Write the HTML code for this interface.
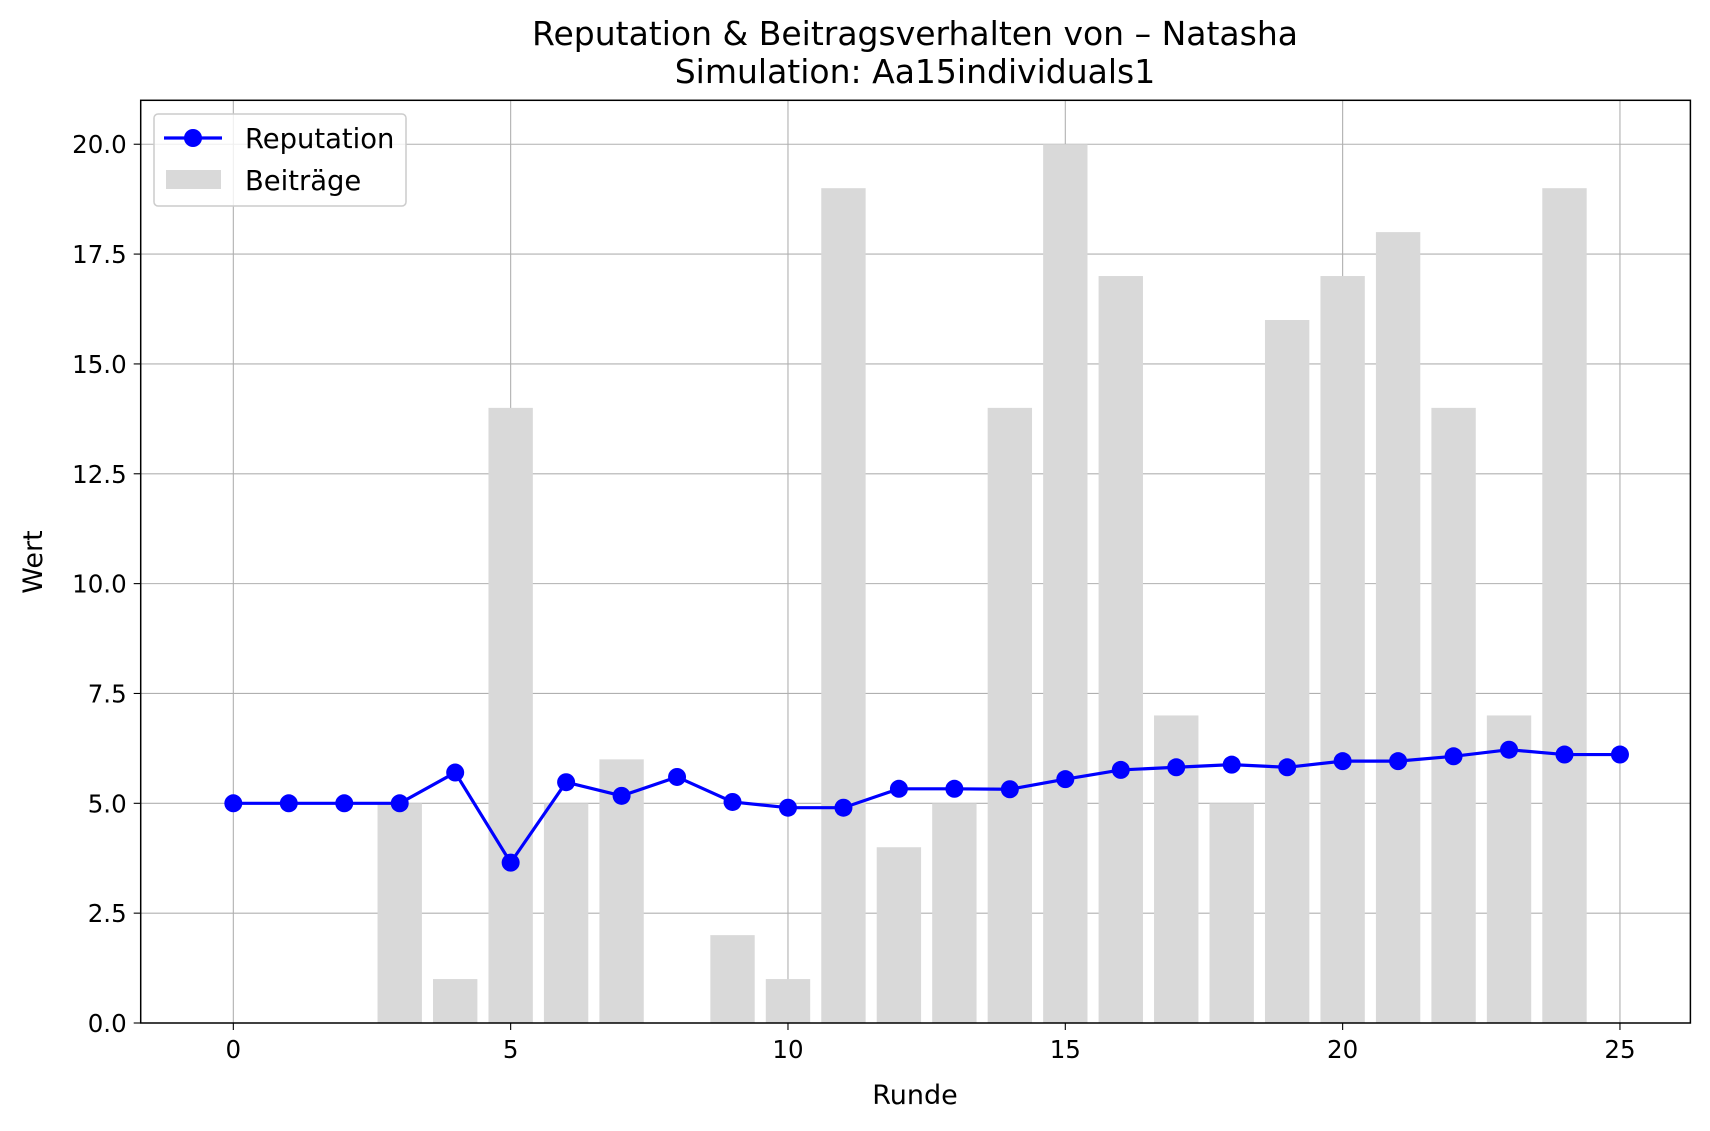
<!DOCTYPE html>
<html><head><meta charset="utf-8"><style>
html,body{margin:0;padding:0;background:#fff;}
svg{display:block;font-family:"DejaVu Sans","Liberation Sans",sans-serif;}
</style></head><body>
<svg id="chart" width="1710" height="1131" viewBox="0 0 1710 1131" xmlns="http://www.w3.org/2000/svg">
<rect width="1710" height="1131" fill="#fff"/>
<g id="grid"></g>
<g id="bars"></g>
<g id="line"></g>
<rect x="140.7" y="100.3" width="1549.7" height="922.7" fill="none" stroke="#000" stroke-width="1.5"/>
<g id="ticks" font-size="24.5" fill="#000"></g>
<text x="915" y="45" font-size="33" text-anchor="middle">Reputation &amp; Beitragsverhalten von – Natasha</text>
<text x="915" y="83" font-size="33" text-anchor="middle">Simulation: Aa15individuals1</text>
<text x="915" y="1104" font-size="27" text-anchor="middle">Runde</text>
<text x="0" y="0" font-size="27" text-anchor="middle" transform="translate(42,562) rotate(-90)">Wert</text>
<g>
<rect x="154" y="114" width="252" height="92" rx="4" fill="#fff" fill-opacity="0.8" stroke="#ccc" stroke-width="1.5"/>
<line x1="164" y1="138" x2="222" y2="138" stroke="#0000ff" stroke-width="3.2"/>
<circle cx="193" cy="138" r="9" fill="#0000ff"/>
<text x="245" y="148" font-size="27.4">Reputation</text>
<rect x="166" y="170" width="55" height="19" fill="#d9d9d9"/>
<text x="245" y="190" font-size="27.4">Beiträge</text>
</g>
</svg>
<script>
const rounds = [0,1,2,3,4,5,6,7,8,9,10,11,12,13,14,15,16,17,18,19,20,21,22,23,24,25];
const reputation = [5,5,5,5,5.7,3.65,5.48,5.17,5.6,5.03,4.9,4.9,5.33,5.33,5.32,5.55,5.76,5.82,5.88,5.82,5.96,5.96,6.07,6.22,6.11,6.11];
const barRounds = [0,1,2,3,4,5,6,7,8,9,10,11,12,13,14,15,16,17,18,19,20,21,22,23,24];
const contributions = [0,0,0,5,1,14,5,6,0,2,1,19,4,5,14,20,17,7,5,16,17,18,14,7,19];
const xTicks = [0,5,10,15,20,25];
const yTicks = [0,2.5,5,7.5,10,12.5,15,17.5,20];
const yTickLabels = ["0.0","2.5","5.0","7.5","10.0","12.5","15.0","17.5","20.0"];

const L=140.7,R=1690.4,T=100.3,B=1023;
const xmin=-1.67,xmax=26.27,ymin=0,ymax=21;
const X=v=>L+(v-xmin)/(xmax-xmin)*(R-L);
const Y=v=>B-(v-ymin)/(ymax-ymin)*(B-T);
const NS="http://www.w3.org/2000/svg";
function mk(tag,attrs,parent){const e=document.createElementNS(NS,tag);for(const k in attrs)e.setAttribute(k,attrs[k]);parent.appendChild(e);return e;}
const grid=document.getElementById('grid'),bars=document.getElementById('bars'),line=document.getElementById('line'),ticks=document.getElementById('ticks');

xTicks.forEach(t=>{
  const g=mk('line',{x1:X(t),x2:X(t),y1:T,y2:B,stroke:'#b0b0b0','stroke-width':1.1},grid);
  
  
  mk('line',{x1:X(t),x2:X(t),y1:B,y2:B+7,stroke:'#000','stroke-width':1.1},ticks);
  const tx=mk('text',{x:X(t),y:B+35,'text-anchor':'middle'},ticks);
  tx.textContent=t;
  
  
});
yTicks.forEach((t,i)=>{
  const g=mk('line',{x1:L,x2:R,y1:Y(t),y2:Y(t),stroke:'#b0b0b0','stroke-width':1.1},grid);
  
  
  mk('line',{x1:L-7,x2:L,y1:Y(t),y2:Y(t),stroke:'#000','stroke-width':1.1},ticks);
  const tx=mk('text',{x:L-14,y:Y(t)+9,'text-anchor':'end'},ticks);
  tx.textContent=yTickLabels[i];
  
  
});
barRounds.forEach((r,i)=>{
  const v=contributions[i];
  const b=mk('rect',{x:X(r-0.4),width:X(r+0.4)-X(r-0.4),y:Y(v),height:Y(0)-Y(v),fill:'#d9d9d9'},bars);
  
  
});
const pts=rounds.map((r,i)=>X(r)+','+Y(reputation[i])).join(' ');
mk('polyline',{points:pts,fill:'none',stroke:'#0000ff','stroke-width':3.2},line);
rounds.forEach((r,i)=>{
  const c=mk('circle',{cx:X(r),cy:Y(reputation[i]),r:9,fill:'#0000ff'},line);
  
  
});
</script>
</body></html>
